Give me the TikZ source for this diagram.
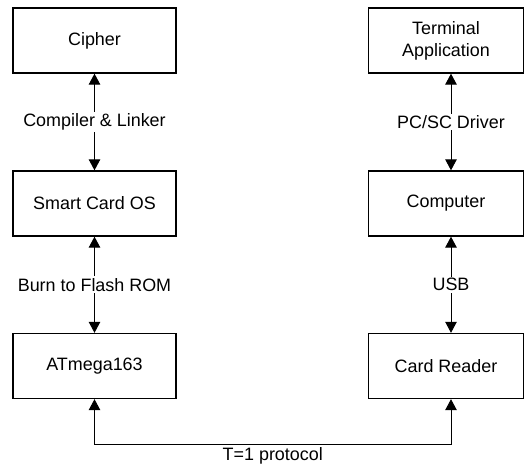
\documentclass[tikz,border=0pt]{standalone}
\usepackage{fontspec}
\setmainfont{Liberation Sans}
\usetikzlibrary{arrows.meta}
\usetikzlibrary{calc}
\tikzset{box/.style={draw, line width=.75pt, minimum height=1.3cm, align=center,
    font=\fontsize{10.2}{12.4}\selectfont}}
\tikzset{lbox/.style={box, minimum width=3.26cm}}
\tikzset{rbox/.style={box, minimum width=3.1cm}}
\tikzset{link/.style={line width=.55pt, {Triangle[width=.23cm,length=.22cm]}-{Triangle[width=.23cm,length=.22cm]}}}
\tikzset{l/.style={fill=white, inner sep=1pt, font=\fontsize{10.2}{12.4}\selectfont}}

\begin{document}
\begin{tikzpicture}
    \useasboundingbox (0,0) rectangle (10.5,9.44);
    \node[lbox] (cipher) at (1.89, 8.63) {Cipher};
    \node[lbox] (os) at (1.89, 5.37) {Smart Card OS};
    \node[lbox] (atmega) at (1.89, 2.12) {ATmega163};
    \node[rbox] (term) at (8.92, 8.63) {Terminal\\Application};
    \node[rbox] (pc) at (8.92, 5.37) {Computer};
    \node[rbox] (reader) at (8.92, 2.12) {Card Reader};
    \coordinate (bus) at (1.89, .56);
    \draw[link] (cipher) -- node[l] {Compiler \& Linker} (os);
    \draw[link] (os) -- node[l] {Burn to Flash ROM} (atmega);
    \draw[link] ([xshift=1mm]term.south) -- node[l] {PC/SC Driver} ([xshift=1mm]pc.north);
    \draw[link] ([xshift=1mm]pc.south) -- node[l] {USB} ([xshift=1mm]reader.north);
    \draw[link] (atmega.south) -- (bus)
      -| node[pos=.25, below=1pt, l] {T=1 protocol} ([xshift=1mm]reader.south);
\end{tikzpicture}
\end{document}
